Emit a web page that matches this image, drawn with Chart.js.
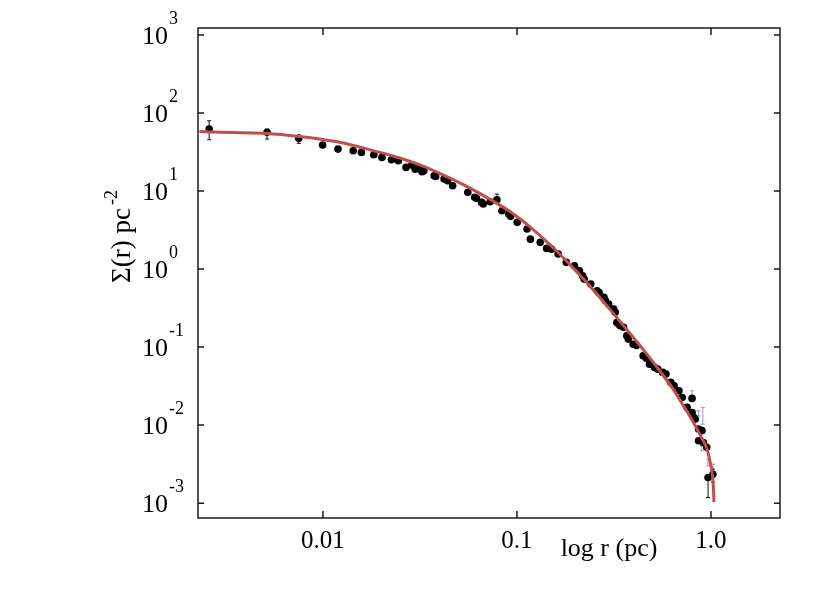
<!DOCTYPE html>
<html>
<head>
<meta charset="utf-8">
<script src="https://cdn.jsdelivr.net/npm/chart.js@4.4.1/dist/chart.umd.min.js"></script>
<style>
html, body { margin: 0; padding: 0; background: #fff; }
#wrap { width: 831px; height: 589px; position: relative; }
</style>
</head>
<body>
<div id="wrap"><canvas id="chart"></canvas></div>
<script>
// observed surface density points (r in pc)
const radius = [0.00259, 0.00515, 0.0075, 0.00996, 0.01195, 0.01432, 0.01578, 0.01828, 0.02014, 0.02254,
  0.02445, 0.0268, 0.0287, 0.0299, 0.0311, 0.0324, 0.0331, 0.0374, 0.0381, 0.0421,
  0.0439, 0.0466, 0.0558, 0.0606, 0.0618, 0.0657, 0.0670, 0.0727, 0.0788, 0.0837,
  0.0908, 0.0927, 0.1003, 0.1127, 0.1173, 0.1318, 0.1422, 0.1507, 0.1630, 0.1795,
  0.1979, 0.210, 0.218, 0.222, 0.240, 0.259, 0.265, 0.281, 0.286, 0.297,
  0.315, 0.321, 0.327, 0.334, 0.340, 0.354, 0.368, 0.375, 0.397, 0.413,
  0.447, 0.464, 0.482, 0.512, 0.532, 0.564, 0.586, 0.621, 0.646, 0.684,
  0.711, 0.753, 0.799, 0.799, 0.814, 0.830, 0.863, 0.898, 0.863, 0.914,
  0.951, 0.966, 1.023];
const sigma = [62.4, 56.6, 47.4, 38.9, 34.5, 32.9, 31.3, 29.2, 27.0, 25.2,
  24.5, 20.1, 21.5, 19.1, 19.5, 17.7, 18.2, 15.7, 15.4, 14.3,
  13.6, 11.7, 9.62, 8.30, 8.06, 7.16, 6.81, 7.29, 7.74, 5.59,
  5.07, 4.74, 3.97, 3.26, 2.42, 2.20, 1.84, 1.80, 1.56, 1.22,
  1.10, 0.951, 0.821, 0.744, 0.642, 0.527, 0.502, 0.434, 0.392, 0.356,
  0.307, 0.279, 0.207, 0.197, 0.1875, 0.179, 0.140, 0.1266, 0.109, 0.105,
  0.0774, 0.072, 0.0605, 0.0549, 0.0522, 0.0474, 0.0451, 0.0353, 0.0319, 0.0275,
  0.0226, 0.01686, 0.0220, 0.01453, 0.01256, 0.01194, 0.00889, 0.0085, 0.0063, 0.0060,
  0.0052, 0.00213, 0.00235];

// red model curve
const fitRadius = [0.00231, 0.00344, 0.00514, 0.00756, 0.0100, 0.0120, 0.01474, 0.01811, 0.02198, 0.02606,
  0.0316, 0.0379, 0.0466, 0.0573, 0.0670, 0.0785, 0.0908, 0.1047, 0.1192, 0.1369,
  0.159, 0.1875, 0.218, 0.254, 0.309, 0.377, 0.454, 0.552, 0.643, 0.723,
  0.811, 0.880, 0.954, 0.988, 1.012, 1.029, 1.036];
const fitSigma = [57.9, 56.2, 54.6, 50.0, 45.7, 42.5, 37.8, 33.0, 29.1, 25.6,
  21.6, 17.9, 14.1, 10.9, 8.81, 7.0, 5.58, 4.32, 3.33, 2.46,
  1.73, 1.14, 0.767, 0.50, 0.283, 0.156, 0.0889, 0.0475, 0.0281, 0.01753,
  0.01092, 0.00745, 0.00492, 0.00345, 0.00250, 0.00160, 0.00103];

// error bars (black) and faint grey ones near the edge
const errRadius = [0.00259, 0.00515, 0.0075, 0.0788, 0.966, 1.023];
const errLow = [45.5, 46.4, 40.9, 7.0, 0.00118, 0.00186];
const errHigh = [79.6, 62.4, 52.2, 9.15, 0.00224, 0.00273];
const greyErrRadius = [0.799, 0.863, 0.908, 0.898, 0.966, 1.027];
const greyErrLow = [0.0220, 0.01316, 0.0103, 0.00469, 0.00301, 0.00224];
const greyErrHigh = [0.0275, 0.01525, 0.01686, 0.00543, 0.00367, 0.00316];

const xTicks = [0.01, 0.1, 1.0];
const xTickLabels = ['0.01', '0.1', '1.0'];
const yTicks = [1e-3, 1e-2, 1e-1, 1e0, 1e1, 1e2, 1e3];
const yExponents = ['-3', '-2', '-1', '0', '1', '2', '3'];
const xTitle = 'log r (pc)';
const yTitle = 'Σ(r) pc';
const yTitleExp = '-2';

const serif = '"Liberation Serif", "Times New Roman", serif';

function drawBars(chart, rs, lo, hi, color) {
  const { ctx, scales: { x, y } } = chart;
  ctx.save();
  ctx.strokeStyle = color;
  ctx.lineWidth = 1;
  rs.forEach((r, i) => {
    const px = x.getPixelForValue(r);
    const y1 = y.getPixelForValue(lo[i]);
    const y2 = y.getPixelForValue(hi[i]);
    ctx.beginPath();
    ctx.moveTo(px, y1); ctx.lineTo(px, y2);
    ctx.moveTo(px - 2, y1); ctx.lineTo(px + 2, y1);
    ctx.moveTo(px - 2, y2); ctx.lineTo(px + 2, y2);
    ctx.stroke();
  });
  ctx.restore();
}

const framePlugin = {
  id: 'frame',
  beforeDatasetsDraw(chart) {
    drawBars(chart, greyErrRadius, greyErrLow, greyErrHigh, '#9a9a9a');
    drawBars(chart, errRadius, errLow, errHigh, '#111');
  },
  afterDraw(chart) {
    const { ctx, chartArea: a, scales: { x, y } } = chart;
    ctx.save();
    // box
    ctx.strokeStyle = '#1a1a1a';
    ctx.lineWidth = 1.5;
    ctx.strokeRect(a.left, a.top, a.right - a.left, a.bottom - a.top);
    // inward ticks on all four sides
    ctx.beginPath();
    xTicks.forEach(v => {
      const px = x.getPixelForValue(v);
      ctx.moveTo(px, a.bottom); ctx.lineTo(px, a.bottom - 7);
      ctx.moveTo(px, a.top); ctx.lineTo(px, a.top + 7);
    });
    yTicks.forEach(v => {
      const py = y.getPixelForValue(v);
      ctx.moveTo(a.left, py); ctx.lineTo(a.left + 6, py);
      ctx.moveTo(a.right, py); ctx.lineTo(a.right - 6, py);
    });
    ctx.stroke();

    // y tick labels: 10 with raised exponent
    ctx.fillStyle = '#000';
    ctx.textBaseline = 'alphabetic';
    ctx.textAlign = 'left';
    yTicks.forEach((v, i) => {
      const py = y.getPixelForValue(v);
      ctx.font = '26px ' + serif;
      ctx.fillText('10', 142, py + 9);
      const w = ctx.measureText('10').width;
      ctx.font = '18px ' + serif;
      ctx.fillText(yExponents[i], 142 + w + 1, py - 11);
    });

    // x title
    ctx.font = '26px ' + serif;
    ctx.textAlign = 'center';
    ctx.fillText(xTitle, 609, 556);

    // y title, rotated
    ctx.translate(130, 283);
    ctx.rotate(-Math.PI / 2);
    ctx.textAlign = 'left';
    ctx.font = '27px ' + serif;
    ctx.fillText(yTitle, 0, 0);
    const tw = ctx.measureText(yTitle).width;
    ctx.font = '18px ' + serif;
    ctx.fillText(yTitleExp, tw + 3, -13);
    ctx.restore();
  }
};

new Chart(document.getElementById('chart'), {
  type: 'scatter',
  data: {
    datasets: [
      {
        label: 'fit',
        data: fitRadius.map((r, i) => ({ x: r, y: fitSigma[i] })),
        showLine: true,
        borderColor: '#c0504d',
        borderWidth: 3,
        pointRadius: 0,
        cubicInterpolationMode: 'monotone',
        order: 0
      },
      {
        label: 'data',
        data: radius.map((r, i) => ({ x: r, y: sigma[i] })),
        backgroundColor: '#000',
        borderColor: '#000',
        borderWidth: 0,
        pointRadius: 3.8,
        order: 1
      }
    ]
  },
  options: {
    responsive: true,
    maintainAspectRatio: false,
    animation: false,
    layout: { padding: { top: 28, right: 51, left: 0, bottom: 0 } },
    plugins: { legend: { display: false }, tooltip: { enabled: false } },
    scales: {
      x: {
        type: 'logarithmic',
        bounds: 'data',
        min: 0.002269,
        max: 2.269,
        afterBuildTicks: s => { s.ticks = xTicks.map(v => ({ value: v })); },
        afterFit: s => { s.height = 71; },
        grid: { display: false, drawTicks: false },
        border: { display: false },
        ticks: {
          autoSkip: false,
          maxRotation: 0,
          padding: 8,
          color: '#000',
          font: { family: serif, size: 25 },
          callback: (v, i) => xTickLabels[i]
        }
      },
      y: {
        type: 'logarithmic',
        bounds: 'data',
        min: 6.45e-4,
        max: 1230,
        afterBuildTicks: s => { s.ticks = yTicks.map(v => ({ value: v })); },
        afterFit: s => { s.width = 198; },
        grid: { display: false, drawTicks: false },
        border: { display: false },
        ticks: { display: false }
      }
    }
  },
  plugins: [framePlugin]
});
</script>
</body>
</html>
